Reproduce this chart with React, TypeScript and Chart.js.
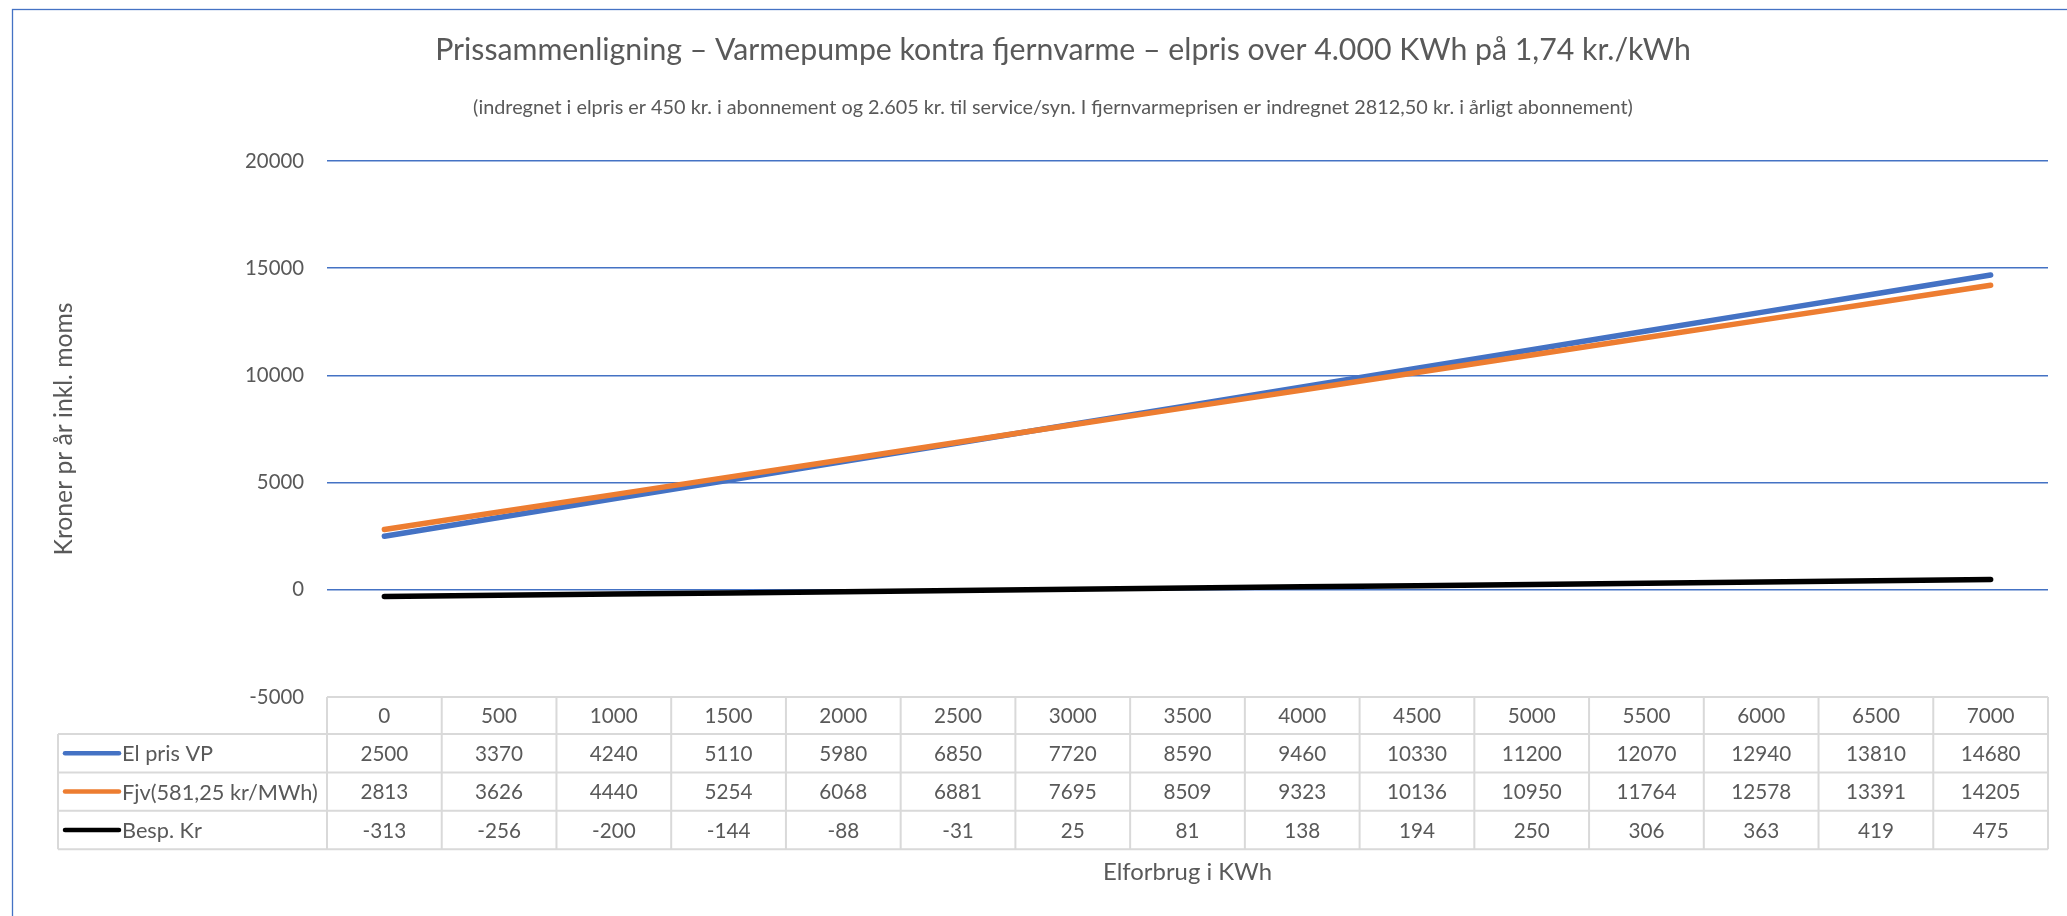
import React, { useEffect, useRef } from "react";
import { Chart, registerables } from "chart.js";

Chart.register(...registerables);

const categories = ["0", "500", "1000", "1500", "2000", "2500", "3000", "3500", "4000", "4500", "5000", "5500", "6000", "6500", "7000"];
const elPrisVP = [2500, 3370, 4240, 5110, 5980, 6850, 7720, 8590, 9460, 10330, 11200, 12070, 12940, 13810, 14680];
const fjernvarme = [2813, 3626, 4440, 5254, 6068, 6881, 7695, 8509, 9323, 10136, 10950, 11764, 12578, 13391, 14205];
const besparelse = [-313, -256, -200, -144, -88, -31, 25, 81, 138, 194, 250, 306, 363, 419, 475];
const seriesNames = ["El pris VP", "Fjv(581,25 kr/MWh)", "Besp. Kr"];
const seriesColors = ["#4472C4", "#ED7D31", "#000000"];

const titleText = "Prissammenligning – Varmepumpe kontra fjernvarme – elpris over 4.000 KWh på 1,74 kr./kWh";
const subtitleText = "(indregnet i elpris er 450 kr. i abonnement og 2.605 kr. til service/syn. I fjernvarmeprisen er indregnet 2812,50 kr. i årligt abonnement)";
const yTitle = "Kroner pr år inkl. moms";
const xTitle = "Elforbrug i KWh";

const FONT = "Lato, 'Open Sans', sans-serif";
const TEXT = "#595959";
const GRID = "#4472C4";
const TABLE_LINE = "#D9D9D9";

function fitFont(text: string, target: number): number {
  const c = document.createElement("canvas");
  const ctx = c.getContext("2d") as CanvasRenderingContext2D;
  ctx.font = `100px ${FONT}`;
  const w = ctx.measureText(text).width || 1;
  return (100 * target) / w;
}

export default function App() {
  const canvasRef = useRef<HTMLCanvasElement | null>(null);

  useEffect(() => {
    const canvas = canvasRef.current;
    if (!canvas) return;
    Chart.defaults.font.family = FONT;
    Chart.defaults.color = TEXT;

    const titleSize = fitFont(titleText, 1256);
    const subtitleSize = fitFont(subtitleText, 1160);
    const yTitleSize = fitFont(yTitle, 253);
    const xTitleSize = fitFont(xTitle, 169);
    const tickSize = fitFont("20000", 59);
    const cellSize = fitFont("14680", 60);
    const labelSize = fitFont(seriesNames[1], 196);

    const borderPlugin = {
      id: "chartBorder",
      beforeDraw(chart: any) {
        const { ctx } = chart;
        ctx.save();
        ctx.fillStyle = "#ffffff";
        ctx.fillRect(0, 0, chart.width, chart.height);
        ctx.strokeStyle = "#4472C4";
        ctx.lineWidth = 1.3;
        ctx.strokeRect(12.5, 9.5, chart.width + 50, chart.height + 50);
        ctx.restore();
      },
    };

    const headingPlugin = {
      id: "heading",
      afterDraw(chart: any) {
        const { ctx } = chart;
        ctx.save();
        ctx.fillStyle = TEXT;
        ctx.textAlign = "center";
        ctx.textBaseline = "middle";
        ctx.font = `${titleSize}px ${FONT}`;
        ctx.fillText(titleText, 1063, 50);
        ctx.font = `${subtitleSize}px ${FONT}`;
        ctx.fillText(subtitleText, 1053, 108);
        ctx.restore();
      },
    };

    const dataTablePlugin = {
      id: "dataTable",
      afterDraw(chart: any) {
        const { ctx, chartArea, scales } = chart;
        const xs = scales.x;
        const n = categories.length;
        const left = chartArea.left;
        const right = chartArea.right;
        const colW = (right - left) / n;
        const top = chartArea.bottom;
        const headerH = 37;
        const rowH = 38.4;
        const legendLeft = 58;
        const bottom = top + headerH + rowH * 3;
        const rows = [elPrisVP, fjernvarme, besparelse];

        ctx.save();
        ctx.strokeStyle = TABLE_LINE;
        ctx.lineWidth = 2;
        ctx.beginPath();
        ctx.moveTo(left, top);
        ctx.lineTo(right, top);
        for (let r = 0; r <= 3; r++) {
          const y = top + headerH + r * rowH;
          ctx.moveTo(legendLeft, y);
          ctx.lineTo(right, y);
        }
        ctx.moveTo(legendLeft, top + headerH);
        ctx.lineTo(legendLeft, bottom);
        for (let c = 0; c <= n; c++) {
          const x = left + c * colW;
          ctx.moveTo(x, top);
          ctx.lineTo(x, bottom);
        }
        ctx.stroke();

        ctx.fillStyle = TEXT;
        ctx.font = `${cellSize}px ${FONT}`;
        ctx.textAlign = "center";
        ctx.textBaseline = "middle";
        for (let c = 0; c < n; c++) {
          const x = xs.getPixelForValue(c);
          ctx.fillText(categories[c], x, top + headerH / 2 + 1);
          for (let r = 0; r < 3; r++) {
            const y = top + headerH + r * rowH + rowH / 2 + 1;
            ctx.fillText(String(rows[r][c]), x, y);
          }
        }

        ctx.textAlign = "left";
        ctx.font = `${labelSize}px ${FONT}`;
        for (let r = 0; r < 3; r++) {
          const y = top + headerH + r * rowH + rowH / 2;
          ctx.strokeStyle = seriesColors[r];
          ctx.lineWidth = 4.5;
          ctx.lineCap = "round";
          ctx.beginPath();
          ctx.moveTo(65, y);
          ctx.lineTo(119, y);
          ctx.stroke();
          ctx.fillStyle = TEXT;
          ctx.fillText(seriesNames[r], 122, y + 1);
        }
        ctx.restore();
      },
    };

    const yTitleLH = yTitleSize * 1.2;
    const xTitleLH = xTitleSize * 1.2;

    const chart = new Chart(canvas, {
      type: "line",
      data: {
        labels: categories,
        datasets: [
          { label: seriesNames[0], data: elPrisVP, borderColor: seriesColors[0], backgroundColor: seriesColors[0], order: 2 },
          { label: seriesNames[1], data: fjernvarme, borderColor: seriesColors[1], backgroundColor: seriesColors[1], order: 1 },
          { label: seriesNames[2], data: besparelse, borderColor: seriesColors[2], backgroundColor: seriesColors[2], order: 0 },
        ],
      },
      options: {
        animation: false,
        responsive: false,
        devicePixelRatio: 1,
        elements: {
          line: { borderWidth: 5.5, borderCapStyle: "round", borderJoinStyle: "round", tension: 0, fill: false },
          point: { radius: 0, hoverRadius: 0 },
        },
        layout: { padding: { left: 0, right: 19, top: 161, bottom: 0 } },
        plugins: {
          legend: { display: false },
          tooltip: { enabled: false },
          title: { display: false },
          subtitle: { display: false },
        },
        scales: {
          x: {
            type: "category",
            offset: true,
            grid: { display: false, drawTicks: false },
            border: { display: false },
            ticks: { display: false },
            title: {
              display: true,
              text: xTitle,
              color: TEXT,
              font: { size: xTitleSize, family: FONT },
              padding: { top: 0, bottom: 44 - xTitleLH / 2 },
            },
            afterFit: (scale: any) => {
              scale.height = 219;
            },
          },
          y: {
            min: -5000,
            max: 20000,
            ticks: {
              stepSize: 5000,
              padding: 23,
              color: TEXT,
              font: { size: tickSize, family: FONT },
              callback: (v: any) => String(v),
            },
            grid: {
              drawTicks: false,
              lineWidth: 1.5,
              color: (ctx: any) => (ctx.tick && ctx.tick.value === -5000 ? "rgba(0,0,0,0)" : GRID),
            },
            border: { display: false },
            title: {
              display: true,
              text: yTitle,
              color: TEXT,
              font: { size: yTitleSize, family: FONT },
              padding: { top: 64 - yTitleLH / 2, bottom: 0 },
            },
            afterFit: (scale: any) => {
              scale.width = 327;
            },
          },
        },
      },
      plugins: [borderPlugin, headingPlugin, dataTablePlugin],
    } as any);

    return () => chart.destroy();
  }, []);

  return (
    <div style={{ position: "absolute", left: 0, top: 0, width: 2067, height: 916, background: "#fff" }}>
      <canvas ref={canvasRef} width={2067} height={916} style={{ display: "block", width: 2067, height: 916 }} />
    </div>
  );
}
